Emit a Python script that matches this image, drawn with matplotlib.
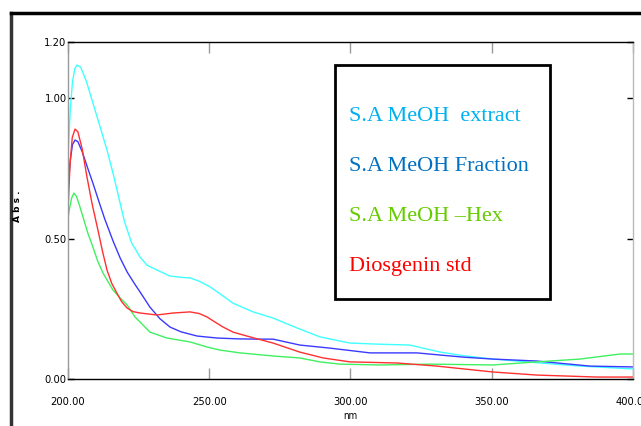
import matplotlib
matplotlib.use("Agg")
import matplotlib.pyplot as plt
from matplotlib.lines import Line2D

# UV spectra, wavelength (nm) vs absorbance
wl_extract = [200, 200.8, 201.6, 202.4, 203.2, 204.5, 206.5, 208.8, 211, 213.8, 216,
              218, 220, 222.5, 225.5, 228, 231.5, 236, 240, 243.2, 246.5, 250.3,
              254, 258.4, 265.5, 272.6, 281, 289.2, 299.8, 310, 321, 331.7, 340,
              350.4, 363.5, 381.2, 400]
abs_extract = [0.79, 0.96, 1.06, 1.105, 1.118, 1.11, 1.06, 0.983, 0.91, 0.815, 0.73,
               0.645, 0.56, 0.485, 0.434, 0.405, 0.388, 0.367, 0.362, 0.36, 0.348,
               0.328, 0.302, 0.27, 0.239, 0.217, 0.182, 0.15, 0.128, 0.124, 0.121,
               0.096, 0.083, 0.071, 0.06, 0.046, 0.036]

wl_fraction = [200, 200.8, 201.6, 202.5, 203.5, 205, 207, 208.8, 211, 213, 216, 218.5,
               221, 223.5, 225.5, 229, 232.5, 236.1, 240, 245.7, 252.7, 260, 266.9,
               272.6, 282, 292.7, 306.9, 323.5, 339.8, 350.4, 366, 384.8, 400]
abs_fraction = [0.68, 0.78, 0.835, 0.851, 0.845, 0.81, 0.75, 0.698, 0.63, 0.57, 0.49,
                0.43, 0.38, 0.34, 0.31, 0.256, 0.215, 0.185, 0.168, 0.153, 0.146,
                0.143, 0.142, 0.142, 0.121, 0.11, 0.093, 0.093, 0.078, 0.071, 0.064,
                0.046, 0.043]

wl_hex = [200, 200.6, 201.3, 202.1, 203, 204, 205.3, 207, 208.8, 210.5, 212.4, 215.9,
          218.5, 220.9, 223.7, 225.5, 229, 235, 243.2, 249.2, 253.8, 260.9, 272.6,
          282, 289.2, 296.3, 310.4, 328.1, 350.4, 366, 381.2, 395.4, 400]
abs_hex = [0.573, 0.61, 0.645, 0.662, 0.65, 0.62, 0.577, 0.52, 0.47, 0.42, 0.377,
           0.317, 0.288, 0.264, 0.221, 0.203, 0.167, 0.146, 0.132, 0.114, 0.103,
           0.093, 0.082, 0.075, 0.061, 0.053, 0.05, 0.053, 0.05, 0.061, 0.071,
           0.089, 0.089]

wl_dios = [200, 200.7, 201.5, 202.5, 203.5, 205, 206.7, 208.5, 210.6, 212.2, 213.8,
           215.5, 217.3, 219, 220.9, 223, 225.5, 231.5, 237.2, 243.2, 246.5, 249.2,
           252, 254.9, 258.4, 264.4, 272.6, 282, 290.3, 299.8, 316.5, 330.6, 350.4,
           366, 387.3, 400]
abs_dios = [0.60, 0.76, 0.86, 0.89, 0.88, 0.82, 0.72, 0.625, 0.53, 0.455, 0.388, 0.34,
            0.306, 0.275, 0.253, 0.24, 0.235, 0.228, 0.235, 0.239, 0.233, 0.221,
            0.203, 0.185, 0.167, 0.15, 0.128, 0.096, 0.075, 0.061, 0.057, 0.046,
            0.025, 0.014, 0.007, 0.007]

legend_labels = ["S.A MeOH  extract", "S.A MeOH Fraction", "S.A MeOH \u2013Hex", "Diosgenin std"]
legend_colors = ["#00B0F0", "#0070C0", "#66CC00", "#FF0000"]

x_ticks = [200, 250, 300, 350, 400]
y_ticks = [0.0, 0.5, 1.0, 1.2]

fig = plt.figure(figsize=(6.41, 4.26), dpi=100)
ax = fig.add_axes([0.1061, 0.1103, 0.8814, 0.7911])

ax.plot(wl_extract, abs_extract, color="#40FFFF", lw=1.0)
ax.plot(wl_fraction, abs_fraction, color="#3A3AFF", lw=1.0)
ax.plot(wl_hex, abs_hex, color="#40F060", lw=1.0)
ax.plot(wl_dios, abs_dios, color="#FF3030", lw=1.0)

ax.set_xlim(200, 400)
ax.set_ylim(0, 1.2)
ax.set_xticks(x_ticks)
ax.set_yticks(y_ticks)
tick_kw = dict(family="DejaVu Sans", fontstretch="condensed", fontsize=8)
ax.set_xticklabels(["%.2f" % v for v in x_ticks], **tick_kw)
ax.set_yticklabels(["%.2f" % v for v in y_ticks], **tick_kw)
ax.tick_params(axis="x", direction="in", length=8, width=1, color="#999999",
               top=True, pad=13)
ax.tick_params(axis="y", direction="in", length=4, width=1, color="black",
               right=True, pad=1)

ax.spines["left"].set_color("#999999")
ax.spines["right"].set_color("#BBBBBB")
ax.spines["top"].set_color("black")
ax.spines["bottom"].set_color("black")
for s in ax.spines.values():
    s.set_linewidth(1.0)

ax.set_xlabel("nm", family="DejaVu Sans", fontstretch="condensed", fontsize=7,
              labelpad=3)
fig.text(18 / 641, 1 - 206 / 426, "A b s .", rotation=90, ha="center", va="center",
         fontsize=6.5, fontweight="bold")

# legend drawn as a plain box with coloured labels
box_l, box_t, box_r, box_b = 335, 65, 550, 299
fig.patches.append(plt.Rectangle((box_l / 641, 1 - box_b / 426),
                                 (box_r - box_l) / 641, (box_b - box_t) / 426,
                                 transform=fig.transFigure, facecolor="white",
                                 edgecolor="black", lw=2, zorder=5))
for i, (lab, col) in enumerate(zip(legend_labels, legend_colors)):
    fig.text(349 / 641, 1 - (121 + 50 * i) / 426, lab, color=col, fontsize=16,
             family="Liberation Serif", ha="left", va="baseline", zorder=6)

# outer frame of the scanned report
fig.add_artist(Line2D([11 / 641, 11 / 641], [0, 1 - 13 / 426], color="#333333",
                      lw=2.5, transform=fig.transFigure))
fig.add_artist(Line2D([11 / 641, 1], [1 - 13 / 426, 1 - 13 / 426], color="black",
                      lw=2.5, transform=fig.transFigure))

fig.savefig("out.png", dpi=100)
